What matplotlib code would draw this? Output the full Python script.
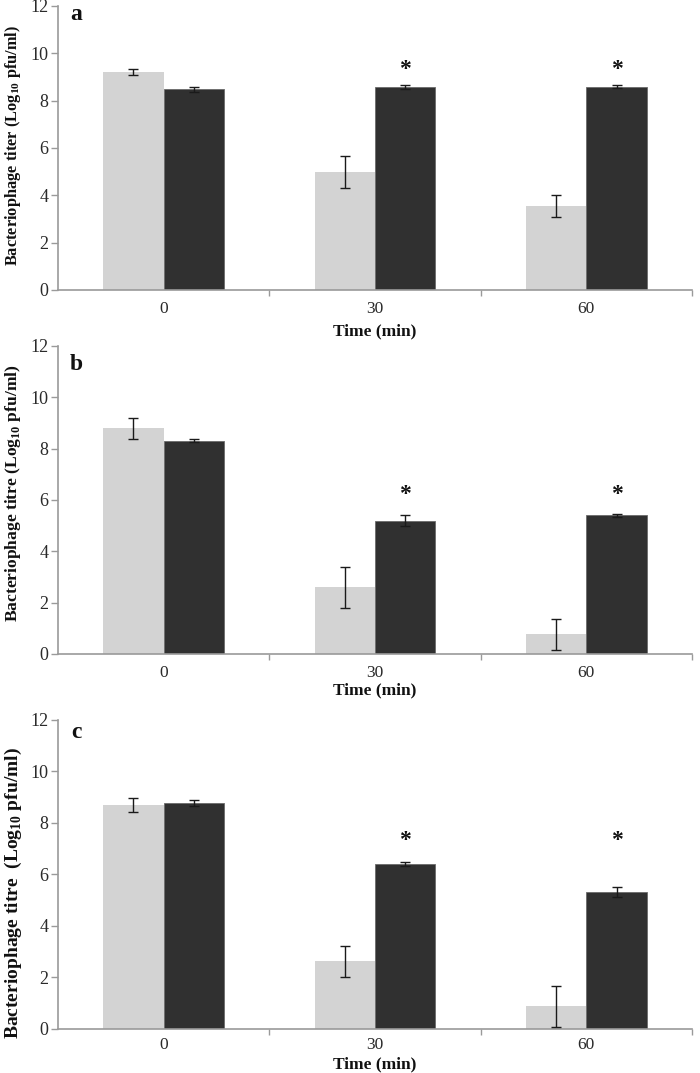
import matplotlib
matplotlib.use('Agg')
import matplotlib.pyplot as plt
import numpy as np

plt.rcParams['font.family'] = ['Liberation Serif', 'DejaVu Serif']
plt.rcParams['mathtext.fontset'] = 'custom'
plt.rcParams['mathtext.rm'] = 'Liberation Serif:bold'
plt.rcParams['mathtext.bf'] = 'Liberation Serif:bold'

# ---------------- data ----------------
times = ['0', '30', '60']
panel_labels = ['a', 'b', 'c']
ylabels = ['Bacteriophage titer (Log$_{10}$ pfu/ml)',
           'Bacteriophage titre (Log$_{10}$ pfu/ml)',
           'Bacteriophage titre  (Log$_{10}$ pfu/ml)']
xlabel = 'Time (min)'

light_a = [9.22, 5.00, 3.55]
light_a_err = [0.12, 0.68, 0.47]
dark_a = [8.48, 8.59, 8.59]
dark_a_err = [0.10, 0.08, 0.07]
star_a = 9.43

light_b = [8.79, 2.60, 0.77]
light_b_err = [0.41, 0.80, 0.60]
dark_b = [8.31, 5.19, 5.40]
dark_b_err = [0.06, 0.21, 0.07]
star_b = 6.30

light_c = [8.70, 2.62, 0.87]
light_c_err = [0.27, 0.60, 0.80]
dark_c = [8.78, 6.40, 5.30]
dark_c_err = [0.12, 0.08, 0.20]
star_c = 7.40

star_idx = [1, 2]

panels = [
    (light_a, light_a_err, dark_a, dark_a_err, star_a),
    (light_b, light_b_err, dark_b, dark_b_err, star_b),
    (light_c, light_c_err, dark_c, dark_c_err, star_c),
]

# ---------------- layout ----------------
W, H = 700, 1073
fig = plt.figure(figsize=(W / 100, H / 100), dpi=100)

ax_px = [(6, 290), (346, 654), (720, 1028.5)]   # (top, bottom) in pixels
xlab_px = [331, 690, 1064]
xtick_pad = [7.6, 7.6, 6.3]
ylab_fs = [11.8, 12.6, 14.0]
ylab_center = [145, 493, 893]
plab_px = [15, 365, 733]

left_px, right_px = 58, 692
light_col = '#d3d3d3'
dark_col = '#303030'
spine_col = '#9a9a9a'
text_col = '#111111'
tick_col = '#2a2a2a'
bw = 0.286

x = np.arange(len(times))

for i, (lv, le, dv, de, st) in enumerate(panels):
    top, bot = ax_px[i]
    ax = fig.add_axes([left_px / W, 1 - bot / H, (right_px - left_px) / W, (bot - top) / H])
    ax.bar(x - bw / 2, lv, bw, color=light_col, edgecolor='none', zorder=2)
    ax.bar(x + bw / 2, dv, bw, color=dark_col, edgecolor='#6a6a6a', linewidth=0.6, zorder=2)
    ax.errorbar(x - bw / 2, lv, yerr=le, fmt='none', ecolor='#1a1a1a', elinewidth=1.0,
                capsize=3.5, capthick=1.0, zorder=3)
    ax.errorbar(x + bw / 2, dv, yerr=de, fmt='none', ecolor='#1a1a1a', elinewidth=1.0,
                capsize=3.5, capthick=1.0, zorder=3)
    for j in star_idx:
        ax.text(x[j] + bw / 2, st, '*', ha='center', va='center_baseline', fontsize=17,
                fontweight='bold', color=text_col)

    ax.set_xlim(-0.5, 2.5)
    ax.set_ylim(0, 12)
    ax.set_yticks(np.arange(0, 13, 2))
    ax.set_xticks(x)
    ax.set_xticklabels(times)
    ax.set_xticks([0.5, 1.5, 2.5], minor=True)
    ax.tick_params(axis='x', which='major', length=0, pad=xtick_pad[i], labelsize=12.5,
                   labelcolor=tick_col)
    ax.tick_params(axis='x', which='minor', length=4, color=spine_col, width=1, direction='out')
    ax.tick_params(axis='y', which='major', length=5, color=spine_col, width=1, direction='out',
                   labelsize=13, pad=2, labelcolor=tick_col)
    for s in ['top', 'right']:
        ax.spines[s].set_visible(False)
    for s in ['left', 'bottom']:
        ax.spines[s].set_color(spine_col)
        ax.spines[s].set_linewidth(1.2)

    ax.text((76 - left_px) / (right_px - left_px), (bot - plab_px[i]) / (bot - top),
            panel_labels[i], transform=ax.transAxes, ha='center', va='center',
            fontsize=17, fontweight='bold', color=text_col)

    fig.text(13 / W, 1 - ylab_center[i] / H, ylabels[i], rotation=90, ha='center', va='center',
             fontsize=ylab_fs[i], fontweight='bold', color=text_col)
    fig.text((left_px + right_px) / 2 / W, 1 - xlab_px[i] / H, xlabel, ha='center', va='center',
             fontsize=12.5, fontweight='bold', color=text_col)

fig.savefig('out.png', dpi=100)
